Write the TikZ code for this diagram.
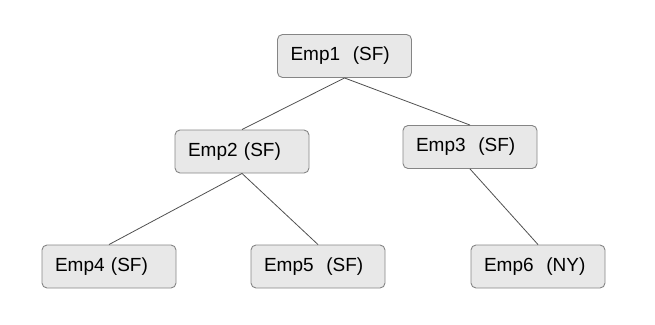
\documentclass[tikz,border=0pt]{standalone}
\usepackage{fontspec}
\setmainfont{Liberation Sans}
\begin{document}
\begin{tikzpicture}[x=1pt,y=-1pt,
  emp/.style={draw=boxborder, fill=boxfill, line width=0.9pt, rounded corners=5pt,
    minimum width=134pt, minimum height=43pt, text width=108pt, inner xsep=13pt,
    align=left, font=\fontsize{19}{22}\selectfont},
  link/.style={draw=linkcol, line width=0.8pt}]
\definecolor{boxborder}{HTML}{858585}
\definecolor{boxfill}{HTML}{E8E8E8}
\definecolor{linkcol}{HTML}{505050}
\useasboundingbox (0,0) rectangle (655,324);
\node[emp] (e1) at (344.5,56) {Emp1\ \ (SF)};
\node[emp] (e2) at (242,151.5) {Emp2 (SF)};
\node[emp] (e3) at (470,147) {Emp3\ \ (SF)};
\node[emp] (e4) at (109,266.5) {Emp4 (SF)};
\node[emp] (e5) at (318,266.5) {Emp5\ \ (SF)};
\node[emp] (e6) at (538,266.5) {Emp6\ \ (NY)};
\draw[link] (e1.south) -- (e2.north);
\draw[link] (e1.south) -- (e3.north);
\draw[link] (e2.south) -- (e4.north);
\draw[link] (e2.south) -- (e5.north);
\draw[link] (e3.south) -- (e6.north);
\end{tikzpicture}
\end{document}
